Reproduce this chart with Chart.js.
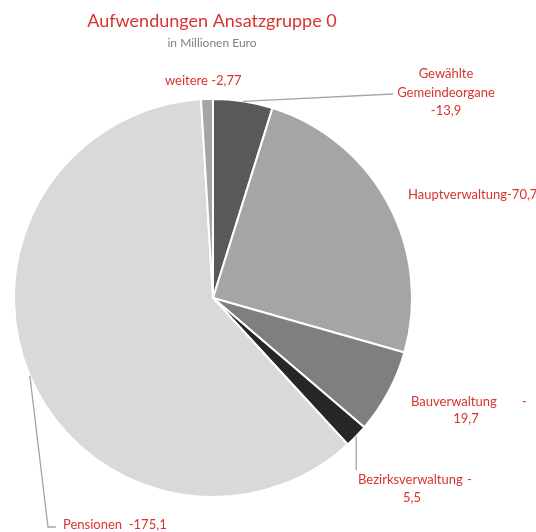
<!DOCTYPE html>
<html><head><meta charset="utf-8">
<script src="https://cdn.jsdelivr.net/npm/chart.js@4"></script>
<style>html,body{margin:0;padding:0;background:#fff}#wrap{width:536px;height:532px}</style>
</head><body><div id="wrap"><canvas id="c" width="536" height="532"></canvas></div>
<script>
const categories = ['Gewählte Gemeindeorgane','Hauptverwaltung','Bauverwaltung','Bezirksverwaltung','Pensionen','weitere'];
const values = [13.9, 70.7, 19.7, 5.5, 175.1, 2.77];
const labelLines = [['Gewählte','Gemeindeorgane','-13,9'],['Hauptverwaltung-70,7'],['Bauverwaltung        -','19,7'],['Bezirksverwaltung  -','5,5'],['Pensionen  -175,1'],['weitere -2,77']];
const colors = ['#595959','#a5a5a5','#7f7f7f','#262626','#d9d9d9','#a6a6a6'];
const RED = '#d8332f';
const FONT = 'Lato, "Open Sans", sans-serif';

const labelPlugin = {
  id: 'labels',
  afterDraw(chart){
    const ctx = chart.ctx;
    const meta = chart.getDatasetMeta(0);
    ctx.save();
    // title
    ctx.fillStyle = RED; ctx.textAlign='center'; ctx.textBaseline='middle';
    ctx.font = '18px ' + FONT;
    ctx.fillText('Aufwendungen Ansatzgruppe 0', 212, 21);
    ctx.fillStyle = '#7f7f7f'; ctx.font = '12px ' + FONT;
    ctx.fillText('in Millionen Euro', 212, 43);
    const pt = (i, extra) => {
      const a = meta.data[i];
      const mid = (a.startAngle + a.endAngle)/2;
      const r = a.outerRadius + (extra||0);
      return [a.x + r*Math.cos(mid), a.y + r*Math.sin(mid)];
    };
    // leader lines
    ctx.strokeStyle = '#a6a6a6'; ctx.lineWidth = 1.3;
    let p = pt(0);
    ctx.beginPath(); ctx.moveTo(p[0], p[1]); ctx.lineTo(393, 94); ctx.stroke();
    p = pt(3);
    ctx.beginPath(); ctx.moveTo(p[0], p[1]); ctx.lineTo(p[0], 470); ctx.stroke();
    p = pt(4);
    ctx.beginPath(); ctx.moveTo(p[0], p[1]); ctx.lineTo(48, 527); ctx.lineTo(56, 527); ctx.stroke();
    // labels
    ctx.fillStyle = RED; ctx.font = '13px ' + FONT; ctx.textBaseline='middle';
    ctx.textAlign='center';
    ctx.fillText(labelLines[0][0], 446, 74);
    ctx.fillText(labelLines[0][1], 446, 93);
    ctx.fillText(labelLines[0][2], 446, 111);
    ctx.textAlign='left';
    ctx.fillText(labelLines[1][0], 408, 195);
    ctx.fillText('Bauverwaltung', 411, 402);
    ctx.fillText('-', 522, 402);
    ctx.textAlign='center'; ctx.fillText(labelLines[2][1], 466, 419);
    ctx.textAlign='left';
    ctx.fillText('Bezirksverwaltung', 358, 480);
    ctx.fillText('-', 467, 480);
    ctx.textAlign='center'; ctx.fillText(labelLines[3][1], 412, 498);
    ctx.textAlign='left';
    ctx.fillText(labelLines[4][0], 63, 525);
    ctx.fillText(labelLines[5][0], 165, 81);
    ctx.restore();
  }
};

new Chart(document.getElementById('c'), {
  type: 'pie',
  data: { labels: categories, datasets: [{ data: values, backgroundColor: colors, borderColor: '#ffffff', borderWidth: 2 }] },
  options: {
    responsive: false, animation: false,
    layout: { padding: { top: 98, left: 13, right: 123, bottom: 34 } },
    plugins: { legend: { display: false }, tooltip: { enabled: false }, title: { display: false } }
  },
  plugins: [labelPlugin]
});
</script></body></html>
